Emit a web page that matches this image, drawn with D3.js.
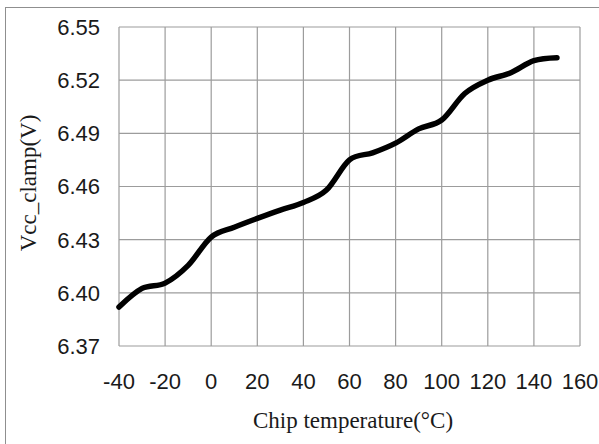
<!DOCTYPE html>
<html>
<head>
<meta charset="utf-8">
<script src="https://d3js.org/d3.v7.min.js"></script>
<style>
  body { margin: 0; background: #fff; }
  svg { display: block; }
</style>
</head>
<body>
<div id="chart"></div>
<script>
'use strict';

// Chip temperature (°C) and measured clamp voltage (V)
const temps = [-40, -30, -20, -10, 0, 10, 20, 30, 40, 50, 60, 70, 80, 90, 100, 110, 120, 130, 140, 150];
const vcc = [6.392, 6.4025, 6.4055, 6.4155, 6.4315, 6.437, 6.442, 6.4467, 6.451, 6.458,
             6.475, 6.479, 6.4845, 6.4925, 6.4975, 6.5125, 6.520, 6.5242, 6.531, 6.5327];
const xTicks = [-40, -20, 0, 20, 40, 60, 80, 100, 120, 140, 160];
const yTicks = [6.37, 6.40, 6.43, 6.46, 6.49, 6.52, 6.55];

const width = 599, height = 444;
const plot = { left: 119, right: 580, top: 27, bottom: 346 };

const svg = d3.select('#chart')
  .append('svg')
  .attr('width', width)
  .attr('height', height);

// Outer chart frame (cropped at right and bottom)
svg.append('rect')
  .attr('x', 5.5).attr('y', 7.5)
  .attr('width', 700).attr('height', 600)
  .attr('fill', 'none')
  .attr('stroke', '#8f8f8f')
  .attr('stroke-width', 1);

const x = d3.scaleLinear().domain([-40, 160]).range([plot.left, plot.right]);
const y = d3.scaleLinear().domain([6.37, 6.55]).range([plot.bottom, plot.top]);

// Grid
const grid = svg.append('g').attr('stroke', '#9c9c9c').attr('stroke-width', 1.2);
grid.selectAll('.vx')
  .data(xTicks)
  .enter()
  .append('line')
  .attr('x1', d => x(d)).attr('x2', d => x(d))
  .attr('y1', plot.top).attr('y2', plot.bottom);
grid.selectAll('.hy')
  .data(yTicks)
  .enter()
  .append('line')
  .attr('x1', plot.left).attr('x2', plot.right)
  .attr('y1', d => y(d)).attr('y2', d => y(d));

// Tick labels
const tickFont = "'Liberation Sans', Arial, sans-serif";
svg.append('g')
  .selectAll('text')
  .data(yTicks)
  .enter()
  .append('text')
  .attr('x', 100)
  .attr('y', d => y(d))
  .attr('dy', '0.36em')
  .attr('text-anchor', 'end')
  .attr('font-family', tickFont)
  .attr('font-size', 22)
  .attr('fill', '#1a1a1a')
  .text(d => d3.format('.2f')(d));

svg.append('g')
  .selectAll('text')
  .data(xTicks)
  .enter()
  .append('text')
  .attr('x', d => x(d))
  .attr('y', 389)
  .attr('text-anchor', 'middle')
  .attr('font-family', tickFont)
  .attr('font-size', 22)
  .attr('fill', '#1a1a1a')
  .text(d => d);

// Axis titles
const titleFont = "'Liberation Serif', 'Times New Roman', serif";
svg.append('text')
  .attr('x', 353)
  .attr('y', 428)
  .attr('text-anchor', 'middle')
  .attr('font-family', titleFont)
  .attr('font-size', 23)
  .attr('fill', '#1a1a1a')
  .text('Chip temperature(°C)');

svg.append('text')
  .attr('transform', 'translate(36,183) rotate(-90)')
  .attr('text-anchor', 'middle')
  .attr('font-family', titleFont)
  .attr('font-size', 23)
  .attr('fill', '#1a1a1a')
  .text('Vcc_clamp(V)');

// Data line (smoothed like the spreadsheet original)
const line = d3.line()
  .x((d, i) => x(temps[i]))
  .y(d => y(d))
  .curve(d3.curveCardinal.tension(0));

svg.append('path')
  .datum(vcc)
  .attr('d', line)
  .attr('fill', 'none')
  .attr('stroke', '#000')
  .attr('stroke-width', 5.5)
  .attr('stroke-linecap', 'round')
  .attr('stroke-linejoin', 'round');
</script>
</body>
</html>
